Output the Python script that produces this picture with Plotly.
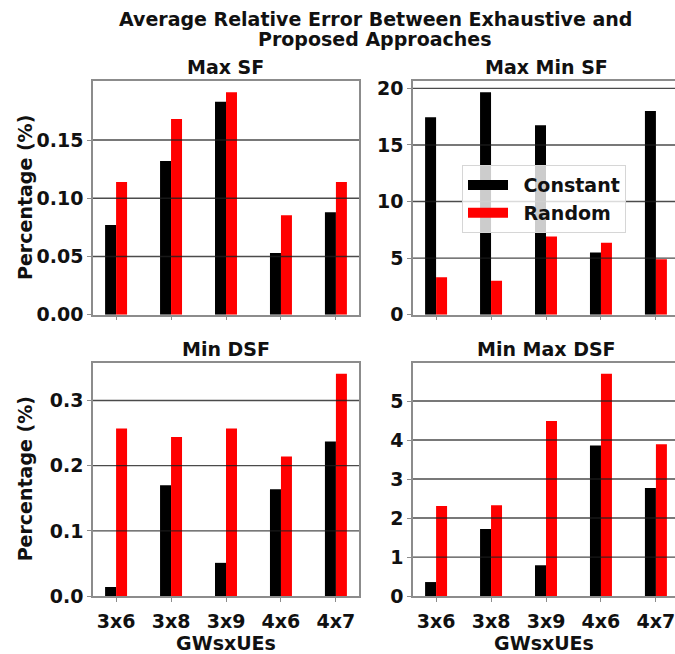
import plotly.graph_objects as go

# ---------------- data ----------------
categories = ['3x6', '3x8', '3x9', '4x6', '4x7']
series_names = ['Constant', 'Random']
series_colors = ['#000000', '#ff0000']

max_sf_const = [0.077, 0.132, 0.183, 0.053, 0.088]
max_sf_rand = [0.114, 0.168, 0.191, 0.0855, 0.114]
maxmin_sf_const = [17.45, 19.65, 16.75, 5.5, 18.0]
maxmin_sf_rand = [3.3, 3.0, 6.9, 6.35, 4.9]
min_dsf_const = [0.014, 0.170, 0.051, 0.164, 0.237]
min_dsf_rand = [0.257, 0.244, 0.257, 0.214, 0.341]
minmax_dsf_const = [0.36, 1.72, 0.79, 3.86, 2.77]
minmax_dsf_rand = [2.31, 2.33, 4.49, 5.70, 3.89]

panel_titles = ['Max SF', 'Max Min SF', 'Min DSF', 'Min Max DSF']
yticks_tl = [0, 0.05, 0.10, 0.15]
yticks_tr = [0, 5, 10, 15, 20]
yticks_bl = [0, 0.1, 0.2, 0.3]
yticks_br = [0, 1, 2, 3, 4, 5]

title_line1 = 'Average Relative Error Between Exhaustive and'
title_line2 = 'Proposed Approaches'
ylabel = 'Percentage (%)'
xlabel = 'GWsxUEs'

# ---------------- layout constants ----------------
W, H = 675, 654
FONT = 'DejaVu Sans'
FS = 19
TXT = '#111111'
bar_w = 0.2
x_pos = list(range(len(categories)))
x_lo = -bar_w - 0.22
left_px = (93, 359)
right_px = (413, 675)
px_per_unit = (left_px[1] - left_px[0]) / (len(categories) - 1 + 2 * 0.42)
x_hi_left = len(categories) - 1 + 0.42
x_hi_right = x_lo + (right_px[1] - right_px[0]) / px_per_unit
right_center_px = right_px[0] + (x_hi_left - x_lo) * px_per_unit / 2
top_px = (79, 318)
bot_px = (367, 606)


def xd(p):
    return [p[0] / W, p[1] / W]


def yd(p):
    return [(H - p[1]) / H, (H - p[0]) / H]


def fnt():
    return dict(family=FONT, size=FS, color=TXT, weight='bold')


panels = [
    dict(c=max_sf_const, r=max_sf_rand, ticks=yticks_tl, fmt='.2f', xdom=xd(left_px), ydom=yd(top_px), right=False, bottom=False),
    dict(c=maxmin_sf_const, r=maxmin_sf_rand, ticks=yticks_tr, fmt='d', xdom=xd(right_px), ydom=yd(top_px), right=True, bottom=False),
    dict(c=min_dsf_const, r=min_dsf_rand, ticks=yticks_bl, fmt='.1f', xdom=xd(left_px), ydom=yd(bot_px), right=False, bottom=True),
    dict(c=minmax_dsf_const, r=minmax_dsf_rand, ticks=yticks_br, fmt='d', xdom=xd(right_px), ydom=yd(bot_px), right=True, bottom=True),
]

fig = go.Figure()
frame_col = '#8c8c8c'
grid_col = 'rgba(30,30,30,0.8)'
shapes = []
annotations = []

for i, p in enumerate(panels):
    n = '' if i == 0 else str(i + 1)
    xa, ya = 'x' + n, 'y' + n
    for vals, name, col, off in [(p['c'], series_names[0], series_colors[0], -bar_w),
                                 (p['r'], series_names[1], series_colors[1], 0.0)]:
        fig.add_trace(go.Bar(x=x_pos, y=vals, width=bar_w, offset=off, marker_color=col,
                             marker_line_width=0, name=name, showlegend=False,
                             xaxis=xa, yaxis=ya))
    ymax = max(p['c'] + p['r']) * 1.05
    fig.update_layout(**{
        'xaxis' + n: dict(domain=p['xdom'], range=[x_lo, x_hi_right if p['right'] else x_hi_left],
                          tickvals=x_pos, ticktext=categories, showticklabels=p['bottom'],
                          ticks='outside', ticklen=4, tickcolor=frame_col, tickwidth=1.3,
                          ticklabeloverflow='allow', ticklabelstandoff=3,
                          showline=True, linecolor=frame_col, linewidth=1.5, mirror=True,
                          showgrid=False, zeroline=False, anchor=ya,
                          title=dict(text=xlabel if p['bottom'] else '', standoff=2, font=fnt()),
                          tickfont=fnt()),
        'yaxis' + n: dict(domain=p['ydom'], range=[0, ymax], tickvals=p['ticks'], tickformat=p['fmt'],
                          ticks='outside', ticklen=4, tickcolor=frame_col, tickwidth=1.3,
                          showline=True, linecolor=frame_col, linewidth=1.5,
                          mirror=False if p['right'] else True,
                          showgrid=False, zeroline=False, anchor=xa,
                          tickfont=fnt()),
    })
    for t in p['ticks']:
        if t == 0:
            continue
        shapes.append(dict(type='line', xref=xa + ' domain', yref=ya, x0=0, x1=1, y0=t, y1=t,
                           line=dict(color=grid_col, width=1.4), layer='above'))
    cx = (right_center_px / W) if p['right'] else (p['xdom'][0] + p['xdom'][1]) / 2
    annotations.append(dict(text=panel_titles[i], xref='paper', yref='paper',
                            x=cx, xanchor='center', y=p['ydom'][1], yanchor='bottom', yshift=1,
                            showarrow=False, font=fnt()))
    if not p['right']:
        annotations.append(dict(text=ylabel, xref='paper', yref='paper', x=25 / W, xanchor='center',
                                y=(p['ydom'][0] + p['ydom'][1]) / 2, yanchor='middle', textangle=-90,
                                showarrow=False, font=fnt()))

# legend proxies (wide rectangles like matplotlib patches)
for name, col in zip(series_names, series_colors):
    fig.add_trace(go.Scatter(x=[None], y=[None], mode='lines', name='\u00a0\u2009' + name,
                             line=dict(color=col, width=13), xaxis='x2', yaxis='y2'))

annotations.append(dict(text=title_line1, xref='paper', yref='paper', x=375 / W, xanchor='center',
                        y=(H - 15) / H, yanchor='middle', showarrow=False, font=fnt()))
annotations.append(dict(text=title_line2, xref='paper', yref='paper', x=375 / W, xanchor='center',
                        y=(H - 36) / H, yanchor='middle', showarrow=False, font=fnt()))

fig.update_layout(
    width=W, height=H, margin=dict(l=0, r=0, t=0, b=0),
    plot_bgcolor='white', paper_bgcolor='white',
    shapes=shapes, annotations=annotations,
    legend=dict(x=462 / W, y=(H - 165) / H, xanchor='left', yanchor='top',
                bgcolor='rgba(255,255,255,0.8)', bordercolor='#d6d6d6', borderwidth=1,
                itemwidth=40, tracegroupgap=0,
                font=fnt()),
)

fig.write_html('out.html')
